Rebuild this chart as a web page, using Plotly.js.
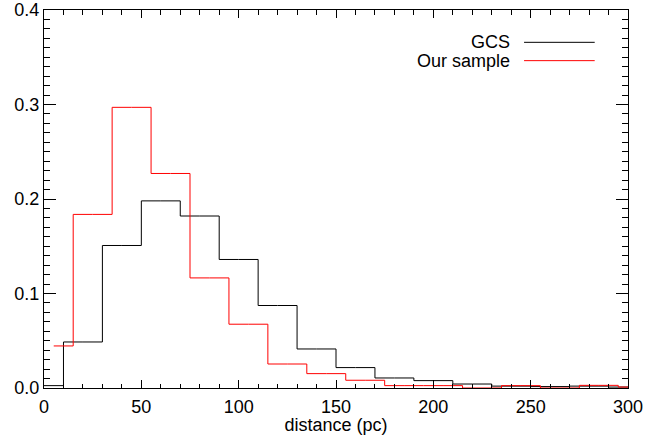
<!DOCTYPE html>
<html>
<head>
<meta charset="utf-8">
<script src="https://cdn.plot.ly/plotly-3.0.1.min.js"></script>
<style>html,body{margin:0;padding:0;background:#fff;}#chart{width:654px;height:435px;}</style>
</head>
<body>
<div id="chart"></div>
<script>
// GCS histogram (bin centres, pc) and normalised frequencies
const gcsDistance = [0, 20, 40, 60, 80, 100, 120, 140, 160, 180, 200, 220, 240, 260, 280, 300];
const gcsFraction = [0.0025, 0.0487, 0.1508, 0.198, 0.182, 0.136, 0.0873, 0.0413, 0.0216, 0.0106, 0.0078, 0.0042, 0.002, 0.0015, 0.002, 0.001];

// Our sample histogram (bin centres, pc) and normalised frequencies
const ourDistance = [5, 25, 45, 65, 85, 105, 125, 145, 165, 185, 205, 225, 245, 265, 285, 305];
const ourFraction = [0.0445, 0.1837, 0.297, 0.227, 0.1165, 0.0675, 0.0254, 0.0152, 0.0082, 0.0025, 0.0025, 0, 0.0025, 0, 0.0028, 0.001];

const seriesNames = ['GCS', 'Our sample'];
const xTitle = 'distance (pc)';

const FONT = 'Liberation Sans, Arial, Helvetica, sans-serif';
const FS = 18;

const traces = [
  {x: gcsDistance, y: gcsFraction, type: 'scatter', mode: 'lines', name: seriesNames[0],
   line: {shape: 'hvh', color: '#000000', width: 1}},
  {x: ourDistance, y: ourFraction, type: 'scatter', mode: 'lines', name: seriesNames[1],
   line: {shape: 'hvh', color: '#ff0000', width: 1}}
];

// Legend drawn IDL-style: text on the left, line sample on the right
const legY = [0.9145, 0.866];
const legColors = ['#000000', '#ff0000'];
const annotations = seriesNames.map((n, i) => ({
  xref: 'paper', yref: 'paper', x: 0.8015, y: legY[i], xanchor: 'right', yanchor: 'middle',
  text: n, showarrow: false, font: {family: FONT, size: FS, color: '#000'}
}));
const shapes = seriesNames.map((n, i) => ({
  type: 'line', xref: 'paper', yref: 'paper', x0: 0.822, x1: 0.943, y0: legY[i], y1: legY[i],
  line: {color: legColors[i], width: 1}
}));

const layout = {
  width: 654, height: 435,
  margin: {l: 44, r: 26, t: 10, b: 47, pad: 0},
  paper_bgcolor: '#ffffff', plot_bgcolor: '#ffffff',
  showlegend: false,
  font: {family: FONT, size: FS, color: '#000'},
  xaxis: {
    range: [0, 300], tickmode: 'linear', tick0: 0, dtick: 50,
    ticks: 'inside', ticklen: 8, tickwidth: 1, tickcolor: '#000',
    minor: {dtick: 10, ticklen: 4.5, ticks: 'inside', tickcolor: '#000', tickwidth: 1},
    showline: true, mirror: 'allticks', linecolor: '#000', linewidth: 1,
    showgrid: false, zeroline: false,
    ticklabelstandoff: 2,
    tickfont: {family: FONT, size: FS, color: '#000'},
    title: {text: xTitle, font: {family: FONT, size: FS, color: '#000'}, standoff: 2}
  },
  yaxis: {
    range: [0, 0.4], tickmode: 'linear', tick0: 0, dtick: 0.1, tickformat: '.1f',
    ticks: 'inside', ticklen: 12, tickwidth: 1, tickcolor: '#000',
    minor: {dtick: 0.01, ticklen: 6, ticks: 'inside', tickcolor: '#000', tickwidth: 1},
    showline: true, mirror: 'allticks', linecolor: '#000', linewidth: 1,
    showgrid: false, zeroline: false,
    tickfont: {family: FONT, size: FS, color: '#000'}
  },
  annotations: annotations,
  shapes: shapes
};

Plotly.newPlot('chart', traces, layout, {displayModeBar: false, staticPlot: true});
</script>
</body>
</html>
